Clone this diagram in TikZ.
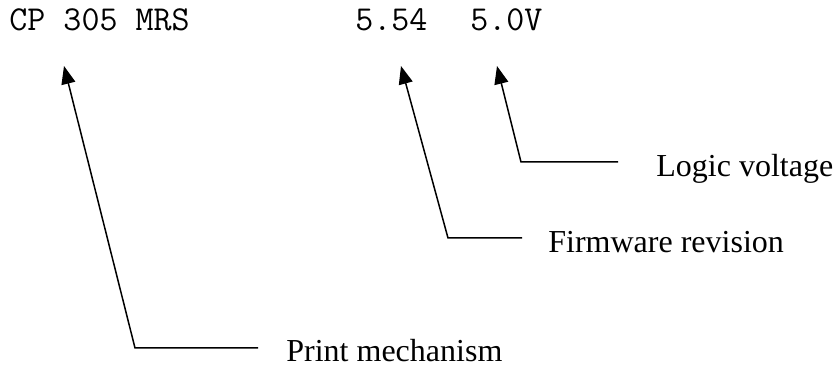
\documentclass[tikz,border=0pt]{standalone}
\usepackage{fontspec}
\setmainfont{Liberation Serif}
\usepackage{tikz}
\usetikzlibrary{arrows.meta}

\tikzset{
    readout/.style = {anchor = base west, inner sep = 0pt,
        font = \ttfamily\fontsize{17.5}{20}\selectfont},
    callout/.style = {anchor = base west, inner sep = 0pt,
        font = \fontsize{16}{19}\selectfont},
    pointer/.style = {line width = 0.75pt,
        -{Triangle[length = 9pt, width = 7pt]}}
}

\begin{document}
\begin{tikzpicture}[x = 0.5pt, y = -0.5pt]
        \useasboundingbox (0, 0) rectangle (836, 368);

        % display line
        \node[readout] (mech) at (9, 31) {CP 305 MRS};
        \node[readout] (fw) at (355, 31) {5.54};
        \node[readout] (volt) at (470, 31) {5.0V};

        % arrow tips and bends
        \coordinate (mechtip) at (64, 66);
        \coordinate (fwtip) at (401, 66);
        \coordinate (volttip) at (497, 66);
        \coordinate (mechbend) at (135, 348);
        \coordinate (fwbend) at (448, 238);
        \coordinate (voltbend) at (521, 162);

        % captions
        \node[callout] (voltcap) at (656, 177) {Logic voltage};
        \node[callout] (fwcap) at (548, 253) {Firmware revision};
        \node[callout] (mechcap) at (286, 362) {Print mechanism};

        \draw[pointer] ([shift = {(-38, -15)}]voltcap.base west)
            -- (voltbend) -- (volttip);
        \draw[pointer] ([shift = {(-26, -15)}]fwcap.base west)
            -- (fwbend) -- (fwtip);
        \draw[pointer] ([shift = {(-28, -14)}]mechcap.base west)
            -- (mechbend) -- (mechtip);
    \end{tikzpicture}
\end{document}
